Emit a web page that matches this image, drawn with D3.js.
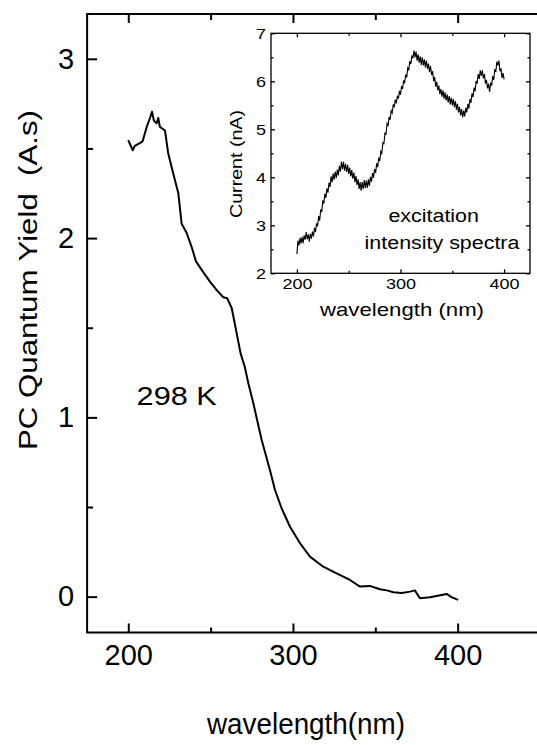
<!DOCTYPE html>
<html>
<head>
<meta charset="utf-8">
<script src="https://cdn.jsdelivr.net/npm/d3@7"></script>
<style>
  body { margin: 0; background: #fff; }
  svg { display: block; font-family: "Liberation Sans", Arial, sans-serif; }
</style>
</head>
<body>
<script>
// Main curve: PC quantum yield at 298 K
var mainWavelength = [200, 202.7, 204, 207, 208.7, 211.2, 213.2, 214.4, 215.6, 217.2, 218.2, 219.2, 222.3, 224.3,
  227.3, 230.4, 232.4, 235.4, 238.5, 241.1, 245.5, 249.6, 253.7, 257.7, 260.1, 262.8, 265.8, 268.2, 270.8,
  272.9, 275.9, 281, 286, 289.1, 293.1, 298.2, 304.3, 310.3, 318.4, 326.5, 334.6, 340.7, 346.7, 352.8,
  357, 361, 366, 371.1, 374, 377.1, 383.2, 387.2, 393.3, 396.3, 400.3];
var mainYield = [2.547, 2.49, 2.515, 2.53, 2.54, 2.62, 2.67, 2.705, 2.655, 2.64, 2.67, 2.62, 2.60, 2.47,
  2.36, 2.25, 2.08, 2.03, 1.95, 1.87, 1.81, 1.757, 1.71, 1.67, 1.664, 1.61, 1.47, 1.357, 1.28,
  1.19, 1.08, 0.874, 0.707, 0.595, 0.493, 0.39, 0.298, 0.223, 0.167, 0.13, 0.093, 0.056, 0.06, 0.041,
  0.035, 0.025, 0.02, 0.028, 0.035, -0.009, -0.003, 0.004, 0.015, -0.003, -0.018];

// Inset: excitation intensity spectrum, one reading per nm from 200 to 400
var insetWavelength = d3.range(200, 401, 1);
var insetCurrent = [
  2.40, 2.68, 2.58, 2.74, 2.62, 2.76, 2.63, 2.79, 2.70, 2.86,
  2.71, 2.81, 2.66, 2.82, 2.72, 2.87, 2.77, 2.95, 2.86, 3.04,
  2.98, 3.19, 3.10, 3.33, 3.28, 3.52, 3.45, 3.66, 3.57, 3.77,
  3.68, 3.89, 3.80, 4.02, 3.90, 4.08, 3.95, 4.12, 3.98, 4.16,
  4.04, 4.24, 4.12, 4.33, 4.17, 4.32, 4.14, 4.28, 4.11, 4.26,
  4.07, 4.20, 4.02, 4.15, 3.97, 4.10, 3.90, 4.03, 3.84, 3.96,
  3.76, 3.90, 3.72, 3.90, 3.76, 3.94, 3.78, 3.93, 3.78, 3.96,
  3.82, 4.01, 3.91, 4.09, 3.99, 4.17, 4.09, 4.29, 4.21, 4.41,
  4.34, 4.54, 4.50, 4.72, 4.70, 4.92, 4.90, 5.12, 5.08, 5.26,
  5.20, 5.39, 5.34, 5.52, 5.46, 5.62, 5.54, 5.70, 5.64, 5.80,
  5.72, 5.90, 5.84, 6.02, 5.96, 6.14, 6.08, 6.28, 6.24, 6.42,
  6.36, 6.54, 6.48, 6.64, 6.50, 6.62, 6.43, 6.56, 6.39, 6.52,
  6.34, 6.50, 6.33, 6.46, 6.29, 6.43, 6.26, 6.37, 6.19, 6.32,
  6.13, 6.21, 6.00, 6.09, 5.89, 5.99, 5.81, 5.91, 5.73, 5.84,
  5.68, 5.81, 5.64, 5.77, 5.60, 5.73, 5.56, 5.69, 5.52, 5.66,
  5.50, 5.63, 5.46, 5.59, 5.41, 5.53, 5.35, 5.47, 5.29, 5.42,
  5.25, 5.39, 5.27, 5.45, 5.35, 5.53, 5.43, 5.63, 5.55, 5.75,
  5.67, 5.87, 5.79, 6.01, 5.95, 6.15, 6.05, 6.23, 6.11, 6.23,
  6.06, 6.15, 5.95, 6.03, 5.85, 5.95, 5.78, 5.97, 5.91, 6.11,
  6.03, 6.25, 6.19, 6.41, 6.33, 6.43, 6.21, 6.27, 6.07, 6.17,
  6.04];

var mainXTicks = [200, 300, 400];
var mainYTicks = [0, 1, 2, 3];
var insetXTicks = [200, 300, 400];
var insetYTicks = [2, 3, 4, 5, 6, 7];

var W = 537, H = 745;
var svg = d3.select("body").append("svg").attr("width", W).attr("height", H);

// stretch text horizontally like the original export
function stretch(sel, f) {
  sel.each(function() {
    var len = this.getComputedTextLength();
    d3.select(this).attr("textLength", len * f).attr("lengthAdjust", "spacingAndGlyphs");
  });
}

// ---------- main plot ----------
var x = d3.scaleLinear().domain([175, 450]).range([87.1, 540]);
var y = d3.scaleLinear().domain([-0.2, 3.25]).range([632.5, 14]);

var main = svg.append("g");

function styleAxis(g, w) {
  g.select(".domain").remove();
  g.selectAll("line").attr("stroke", "#000").attr("stroke-width", w);
}

var gxb = main.append("g").attr("transform", "translate(0," + y(-0.2) + ")")
  .call(d3.axisBottom(x).tickValues(mainXTicks).tickSize(-9).tickPadding(12).tickFormat(d3.format("d")));
styleAxis(gxb, 2);
gxb.selectAll("text").attr("font-size", 29).attr("fill", "#000").attr("font-family", null);
main.append("g").attr("transform", "translate(0," + y(-0.2) + ")")
  .call(d3.axisBottom(x).tickValues([250, 350, 450]).tickSize(-5).tickFormat(""))
  .call(styleAxis, 2);
main.append("g").attr("transform", "translate(0," + y(3.25) + ")")
  .call(d3.axisTop(x).tickValues(mainXTicks).tickSize(-9).tickFormat(""))
  .call(styleAxis, 2);
main.append("g").attr("transform", "translate(0," + y(3.25) + ")")
  .call(d3.axisTop(x).tickValues([250, 350, 450]).tickSize(-6).tickFormat(""))
  .call(styleAxis, 2);

var gyl = main.append("g").attr("transform", "translate(" + x(175) + ",0)")
  .call(d3.axisLeft(y).tickValues(mainYTicks).tickSize(-10).tickPadding(13).tickFormat(d3.format("d")));
styleAxis(gyl, 2);
gyl.selectAll("text").attr("font-size", 29).attr("fill", "#000").attr("font-family", null);
main.append("g").attr("transform", "translate(" + x(175) + ",0)")
  .call(d3.axisLeft(y).tickValues([0.5, 1.5, 2.5]).tickSize(-6).tickFormat(""))
  .call(styleAxis, 2);

main.append("rect")
  .attr("x", x(175)).attr("y", y(3.25))
  .attr("width", x(450) - x(175)).attr("height", y(-0.2) - y(3.25))
  .attr("fill", "none").attr("stroke", "#000").attr("stroke-width", 2);

var mainLine = d3.line()
  .x(function(d, i) { return x(mainWavelength[i]); })
  .y(function(d) { return y(d); });
main.append("path").datum(mainYield)
  .attr("d", mainLine)
  .attr("fill", "none").attr("stroke", "#000").attr("stroke-width", 2)
  .attr("stroke-linejoin", "round");

main.append("text").attr("x", 176.7).attr("y", 405)
  .attr("text-anchor", "middle").attr("font-size", 26).text("298 K")
  .call(stretch, 1.18);

main.append("text").attr("x", 306).attr("y", 734)
  .attr("text-anchor", "middle").attr("font-size", 30).text("wavelength(nm)")
  .attr("textLength", 198).attr("lengthAdjust", "spacingAndGlyphs");

main.append("text").attr("transform", "translate(37,280) rotate(-90)")
  .attr("text-anchor", "middle").attr("font-size", 25).attr("xml:space", "preserve")
  .text("PC Quantum Yield  (A.s)")
  .attr("textLength", 340).attr("lengthAdjust", "spacingAndGlyphs");

// ---------- inset ----------
var ix = d3.scaleLinear().domain([175, 425]).range([271, 530]);
var iy = d3.scaleLinear().domain([2, 7]).range([273.3, 33.3]);
var inset = svg.append("g");

inset.append("rect")
  .attr("x", ix(175)).attr("y", iy(7))
  .attr("width", ix(425) - ix(175)).attr("height", iy(2) - iy(7))
  .attr("fill", "#fff");

var ixb = inset.append("g").attr("transform", "translate(0," + iy(2) + ")")
  .call(d3.axisBottom(ix).tickValues(insetXTicks).tickSize(-4).tickPadding(5).tickFormat(d3.format("d")));
styleAxis(ixb, 1.3);
ixb.selectAll("text").attr("font-size", 15).attr("fill", "#000").attr("font-family", null).call(stretch, 1.2);
inset.append("g").attr("transform", "translate(0," + iy(2) + ")")
  .call(d3.axisBottom(ix).tickValues([250, 350]).tickSize(-2.5).tickFormat(""))
  .call(styleAxis, 1.3);
inset.append("g").attr("transform", "translate(0," + iy(7) + ")")
  .call(d3.axisTop(ix).tickValues(insetXTicks).tickSize(-4).tickFormat(""))
  .call(styleAxis, 1.3);
inset.append("g").attr("transform", "translate(0," + iy(7) + ")")
  .call(d3.axisTop(ix).tickValues([250, 350]).tickSize(-2.5).tickFormat(""))
  .call(styleAxis, 1.3);

var iyl = inset.append("g").attr("transform", "translate(" + ix(175) + ",0)")
  .call(d3.axisLeft(iy).tickValues(insetYTicks).tickSize(-4).tickPadding(5).tickFormat(d3.format("d")));
styleAxis(iyl, 1.3);
iyl.selectAll("text").attr("font-size", 15).attr("fill", "#000").attr("font-family", null).call(stretch, 1.2);
inset.append("g").attr("transform", "translate(" + ix(175) + ",0)")
  .call(d3.axisLeft(iy).tickValues([2.5, 3.5, 4.5, 5.5, 6.5]).tickSize(-2.5).tickFormat(""))
  .call(styleAxis, 1.3);
inset.append("g").attr("transform", "translate(" + ix(425) + ",0)")
  .call(d3.axisRight(iy).tickValues(insetYTicks).tickSize(-4).tickFormat(""))
  .call(styleAxis, 1.3);
inset.append("g").attr("transform", "translate(" + ix(425) + ",0)")
  .call(d3.axisRight(iy).tickValues([2.5, 3.5, 4.5, 5.5, 6.5]).tickSize(-2.5).tickFormat(""))
  .call(styleAxis, 1.3);

inset.append("rect")
  .attr("x", ix(175)).attr("y", iy(7))
  .attr("width", ix(425) - ix(175)).attr("height", iy(2) - iy(7))
  .attr("fill", "none").attr("stroke", "#000").attr("stroke-width", 1.3);

var insetLine = d3.line()
  .x(function(d, i) { return ix(insetWavelength[i]); })
  .y(function(d) { return iy(d); });
inset.append("path").datum(insetCurrent)
  .attr("d", insetLine)
  .attr("fill", "none").attr("stroke", "#000").attr("stroke-width", 1.1);

inset.append("text").attr("x", 433.7).attr("y", 221.5)
  .attr("text-anchor", "middle").attr("font-size", 18).text("excitation")
  .call(stretch, 1.19);
inset.append("text").attr("x", 442).attr("y", 249)
  .attr("text-anchor", "middle").attr("font-size", 18).text("intensity spectra")
  .call(stretch, 1.19);
inset.append("text").attr("x", 402).attr("y", 316)
  .attr("text-anchor", "middle").attr("font-size", 19).text("wavelength (nm)")
  .attr("textLength", 164).attr("lengthAdjust", "spacingAndGlyphs");
inset.append("text").attr("transform", "translate(242,164) rotate(-90)")
  .attr("text-anchor", "middle").attr("font-size", 17).text("Current (nA)")
  .attr("textLength", 108).attr("lengthAdjust", "spacingAndGlyphs");
</script>
</body>
</html>
